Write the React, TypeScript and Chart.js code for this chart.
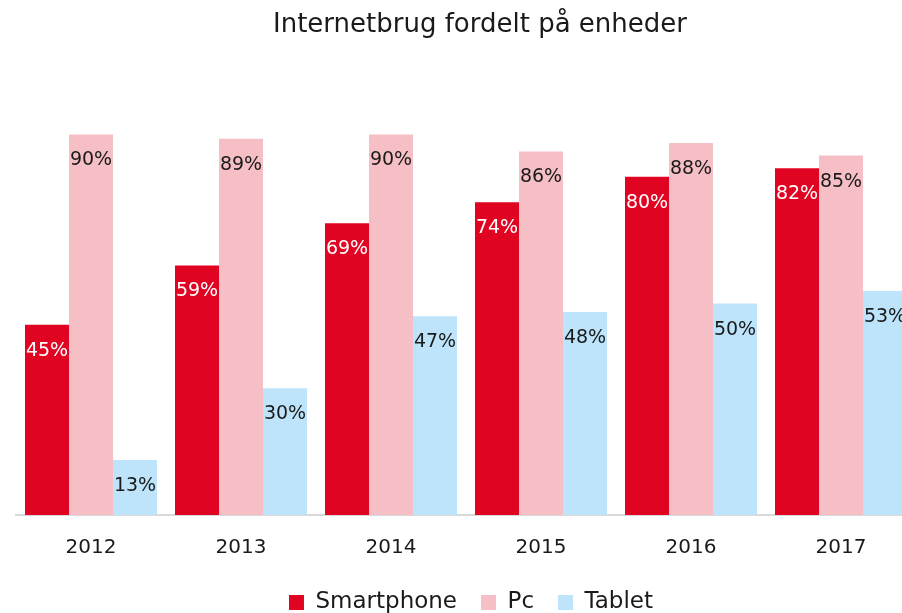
import React, { useEffect, useRef } from "react";
import { Chart, registerables } from "chart.js";

Chart.register(...registerables);

const years = ["2012", "2013", "2014", "2015", "2016", "2017"];
const smartphone = [45, 59, 69, 74, 80, 82];
const pc = [90, 89, 90, 86, 88, 85];
const tablet = [13, 30, 47, 48, 50, 53];
const seriesNames = ["Smartphone", "Pc", "Tablet"];
const FONT = "'DejaVu Sans', sans-serif";

const labelPlugin = {
  id: "barLabels",
  afterLayout(chart: any) {
    const t = chart.titleBlock;
    if (t) {
      t.left += 14;
      t.right += 14;
    }
    const l = chart.legend;
    if (l) {
      l.left += 5;
      l.right += 5;
      l.top -= 14;
      l.bottom -= 14;
    }
  },
  afterDatasetsDraw(chart: any) {
    const ctx = chart.ctx;
    ctx.save();
    ctx.font = `19px ${FONT}`;
    ctx.textAlign = "center";
    ctx.textBaseline = "middle";
    chart.data.datasets.forEach((ds: any, i: number) => {
      const meta = chart.getDatasetMeta(i);
      meta.data.forEach((bar: any, j: number) => {
        ctx.fillStyle = i === 0 ? "#ffffff" : "#1a1a1a";
        ctx.fillText(ds.data[j] + "%", bar.x, bar.y + 26);
      });
    });
    ctx.restore();
  },
};

export default function App() {
  const ref = useRef<HTMLCanvasElement>(null);
  useEffect(() => {
    document.body.style.overflow = "hidden";
    const chart = new Chart(ref.current!, {
      type: "bar",
      data: {
        labels: years,
        datasets: [
          { label: seriesNames[0], data: smartphone, backgroundColor: "#E00422" },
          { label: seriesNames[1], data: pc, backgroundColor: "#F6BFC5" },
          { label: seriesNames[2], data: tablet, backgroundColor: "#BDE4FB" },
        ],
      },
      options: {
        animation: false,
        responsive: false,
        maintainAspectRatio: false,
        layout: { padding: { left: 16, right: 34, top: 6, bottom: 0 } },
        datasets: { bar: { categoryPercentage: 0.88, barPercentage: 1 } },
        plugins: {
          title: {
            display: true,
            text: "Internetbrug fordelt på enheder",
            color: "#1a1a1a",
            font: { family: FONT, size: 26, weight: "normal" },
            padding: { top: 4, bottom: 51 },
          },
          legend: {
            position: "bottom",
            labels: {
              color: "#1a1a1a",
              font: { family: FONT, size: 23 },
              boxWidth: 15,
              boxHeight: 15,
              padding: 24,
            },
          },
          tooltip: { enabled: false },
        },
        scales: {
          x: {
            grid: { display: false, drawTicks: false },
            border: { display: true, color: "#d9d9d9", width: 2 },
            ticks: { color: "#1a1a1a", font: { family: FONT, size: 20, lineHeight: 1.5 }, padding: 18 },
          },
          y: { display: false, min: 0, max: 100 },
        },
      },
      plugins: [labelPlugin],
    });
    return () => chart.destroy();
  }, []);
  return (
    <div style={{ position: "absolute", left: 0, top: 0, width: 902, height: 613, overflow: "hidden" }}>
      <canvas ref={ref} width={950} height={638} style={{ display: "block" }} />
    </div>
  );
}
